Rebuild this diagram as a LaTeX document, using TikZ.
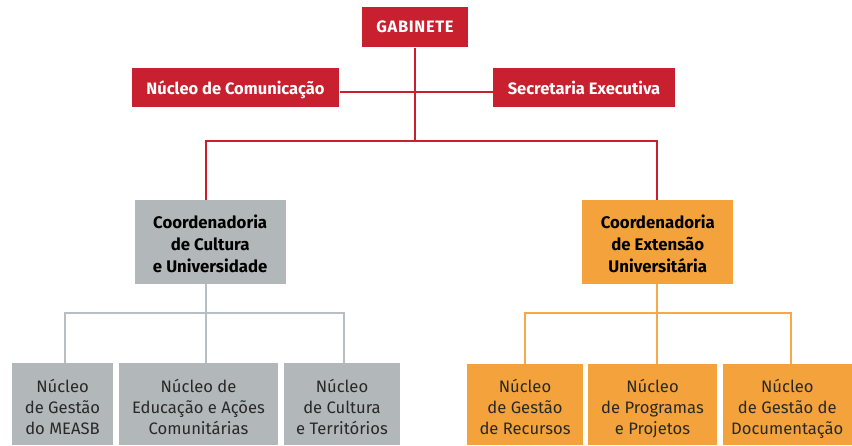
\documentclass[tikz,border=0pt]{standalone}
\usepackage{fontspec}
\setmainfont{Fira Sans}
\definecolor{figred}{RGB}{200,32,46}
\definecolor{figgray}{RGB}{178,183,186}
\definecolor{figgrayline}{RGB}{184,191,195}
\definecolor{figorange}{RGB}{244,163,60}
\definecolor{figorangeline}{RGB}{246,168,74}
\definecolor{figtext}{RGB}{40,40,40}
\newcommand{\lowertext}[2]{\raisebox{-#1}[\height][\depth]{\begin{tabular}{@{}c@{}}#2\end{tabular}}}
\begin{document}
\begin{tikzpicture}[x=1pt,y=-1pt,
  box/.style={inner sep=0pt, align=center, anchor=center},
  redbox/.style={box, fill=figred, text=white, font=\fontsize{16.5}{18}\selectfont\bfseries},
  coordbox/.style={box, minimum width=151pt, minimum height=84pt, text=black, font=\fontsize{16.8}{22}\selectfont\bfseries},
  leafbox/.style={box, minimum height=82pt, text=figtext, font=\fontsize{16.6}{21}\selectfont},
  redline/.style={draw=figred, line width=2pt},
  grayline/.style={draw=figgrayline, line width=2pt},
  orangeline/.style={draw=figorangeline, line width=2pt}]
\useasboundingbox (0,0) rectangle (852,445);
% top level
\node[redbox, minimum width=106pt, minimum height=40pt] (gab) at (415,27.3) {\addfontfeatures{LetterSpace=4}\lowertext{2pt}{GABINETE}};
\node[redbox, minimum width=207.6pt, minimum height=39.6pt] (com) at (235.5,87.5) {\lowertext{3pt}{Núcleo de Comunicação}};
\node[redbox, minimum width=182.6pt, minimum height=39.6pt] (sec) at (584,87.5) {\lowertext{3pt}{Secretaria Executiva}};
% coordinations
\node[coordbox, fill=figgray] (ccu) at (210.2,242) {\lowertext{4.5pt}{Coordenadoria\\de Cultura\\e Universidade}};
\node[coordbox, fill=figorange] (cex) at (657.8,242) {\lowertext{4.5pt}{Coordenadoria\\de Extensão\\Universitária}};
% leaves gray
\node[leafbox, fill=figgray, minimum width=101pt] (g1) at (62.5,404) {\lowertext{5pt}{Núcleo\\de Gestão\\do MEASB}};
\node[leafbox, fill=figgray, minimum width=159pt] (g2) at (198.5,404) {\lowertext{5pt}{Núcleo de\\Educação e Ações\\Comunitárias}};
\node[leafbox, fill=figgray, minimum width=116pt] (g3) at (342,404) {\lowertext{5pt}{Núcleo\\de Cultura\\e Territórios}};
% leaves orange
\node[leafbox, fill=figorange, minimum width=116.6pt, minimum height=81pt] (o1) at (525,404.5) {\lowertext{4.5pt}{Núcleo\\de Gestão\\de Recursos}};
\node[leafbox, fill=figorange, minimum width=129pt, minimum height=81pt] (o2) at (652.5,404.5) {\lowertext{4.5pt}{Núcleo\\de Programas\\e Projetos}};
\node[leafbox, fill=figorange, minimum width=129.3pt, minimum height=81pt] (o3) at (787.3,404.5) {\lowertext{4.5pt}{Núcleo\\de Gestão de\\Documentação}};
% junction coordinates
\coordinate (mid) at (414.7,92);
\coordinate (rj) at (414.7,141);
\coordinate (rl) at (206,141);
\coordinate (rr) at (656.7,141);
\coordinate (gj) at (206,313);
\coordinate (gl) at (65,313);
\coordinate (gr) at (344,313);
\coordinate (oj) at (656.7,313);
\coordinate (ol) at (525,313);
\coordinate (or) at (791,313);
% red connectors
\draw[redline] (gab.south -| rj) -- (rj);
\draw[redline] (com.east |- mid) -- (sec.west |- mid);
\draw[redline] (rl |- ccu.north) -- (rl) -- (rr) -- (rr |- cex.north);
% gray connectors
\draw[grayline] (ccu.south -| gj) -- (gj);
\draw[grayline] (gl |- g1.north) -- (gl) -- (gr) -- (gr |- g3.north);
\draw[grayline] (gj) -- (gj |- g2.north);
% orange connectors
\draw[orangeline] (cex.south -| oj) -- (oj);
\draw[orangeline] (ol |- o1.north) -- (ol) -- (or) -- (or |- o3.north);
\draw[orangeline] (oj) -- (oj |- o2.north);
\end{tikzpicture}
\end{document}
